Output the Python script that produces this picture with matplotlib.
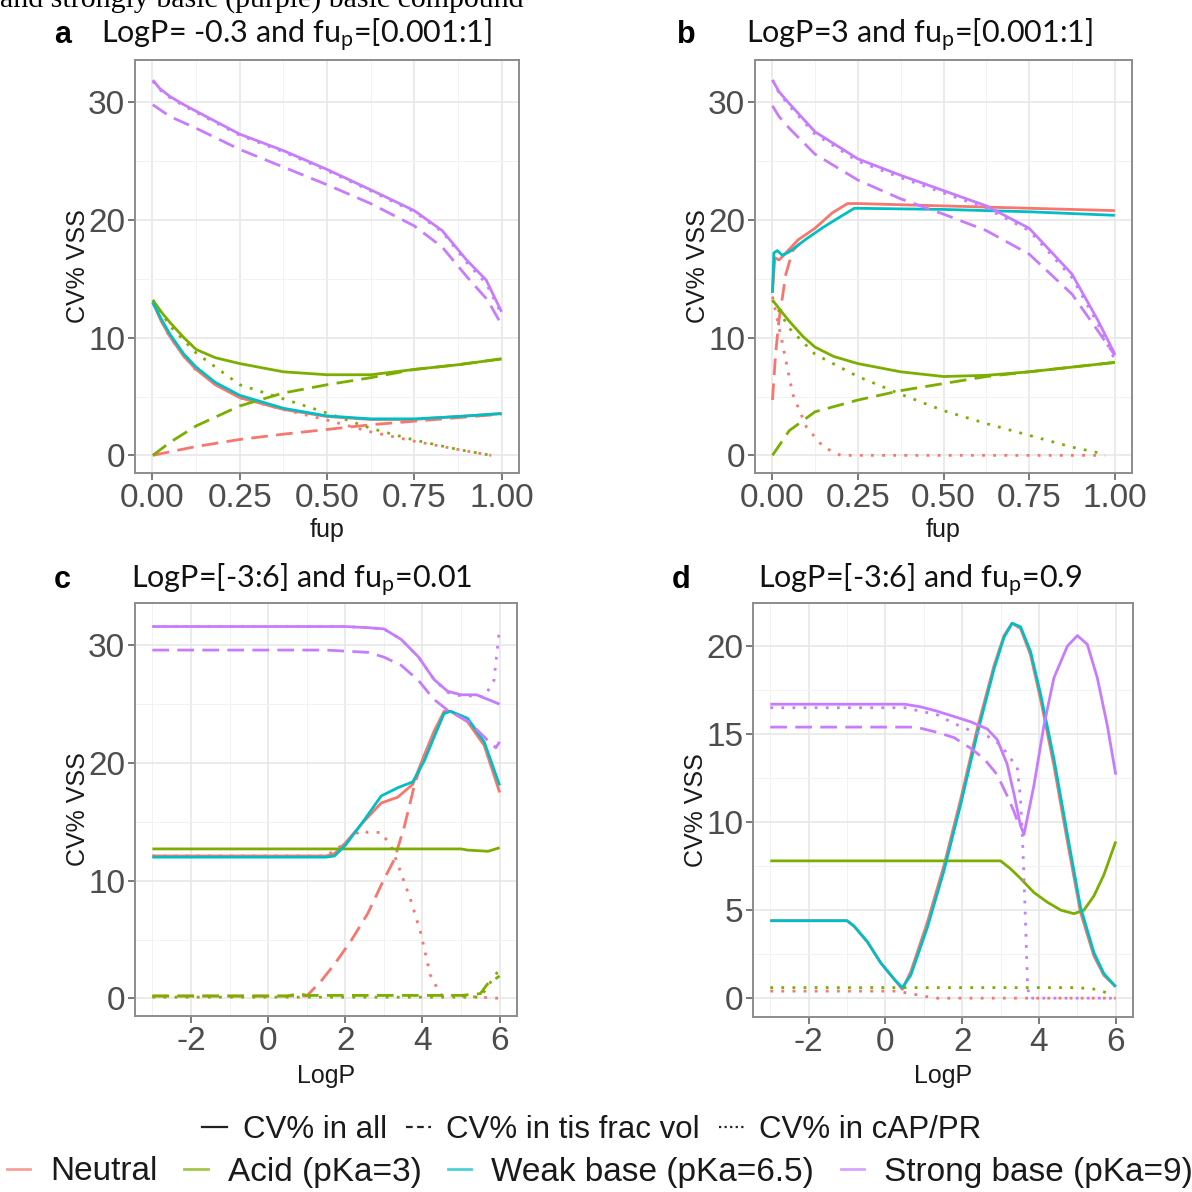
import matplotlib
matplotlib.use("Agg")
import matplotlib.pyplot as plt
from matplotlib.lines import Line2D

plt.rcParams["font.family"] = ["Liberation Sans", "DejaVu Sans"]
plt.rcParams["mathtext.fontset"] = "custom"
plt.rcParams["mathtext.rm"] = "Lato"
plt.rcParams["mathtext.it"] = "Lato:italic"

RED, GREEN, CYAN, PURPLE = "#F8766D", "#7CAE00", "#00BFC4", "#C77CFF"

# ---------------- panel a: LogP = -0.3, fup sweep ----------------
a_purple_all_x = [0.001, 0.02, 0.05, 0.09, 0.128, 0.25, 0.375, 0.5, 0.623, 0.75, 0.83, 0.9, 0.956, 1.0]
a_purple_all_y = [31.9, 31.2, 30.5, 29.8, 29.2, 27.3, 25.9, 24.3, 22.6, 20.8, 19.1, 16.6, 14.9, 12.2]
a_purple_cap_y = [31.8, 31.1, 30.4, 29.7, 29.1, 27.2, 25.8, 24.2, 22.5, 20.7, 19.0, 16.4, 14.6, 12.0]
a_purple_tis_x = [0.001, 0.05, 0.125, 0.25, 0.375, 0.5, 0.625, 0.75, 0.83, 0.9, 0.96, 1.0]
a_purple_tis_y = [29.8, 28.8, 27.8, 26.0, 24.5, 23.0, 21.4, 19.5, 17.7, 15.2, 13.2, 11.1]
a_fine_x = [0.001, 0.025, 0.05, 0.09, 0.125, 0.18, 0.25, 0.375, 0.5, 0.625, 0.75, 0.875, 1.0]
a_green_all_y = [13.2, 12.2, 11.3, 10.0, 9.0, 8.3, 7.8, 7.1, 6.85, 6.85, 7.3, 7.7, 8.2]
a_red_all_y = [13.0, 11.4, 10.1, 8.4, 7.3, 6.0, 4.9, 3.9, 3.3, 3.05, 3.05, 3.3, 3.55]
a_cyan_all_y = [13.0, 11.6, 10.3, 8.6, 7.5, 6.2, 5.1, 4.0, 3.35, 3.1, 3.1, 3.3, 3.55]
a_coarse_x = [0.001, 0.05, 0.125, 0.25, 0.375, 0.5, 0.625, 0.75, 0.875, 1.0]
a_green_tis_y = [0.0, 1.1, 2.5, 4.2, 5.3, 6.0, 6.6, 7.3, 7.7, 8.2]
a_red_tis_y = [0.0, 0.3, 0.75, 1.35, 1.8, 2.2, 2.6, 2.9, 3.2, 3.5]
a_cap_x = [0.001, 0.05, 0.125, 0.25, 0.375, 0.5, 0.625, 0.75, 0.875, 0.97]
a_green_cap_y = [13.2, 11.0, 8.7, 6.0, 4.8, 3.6, 2.3, 1.3, 0.5, 0.0]
a_red_cap_y = [13.0, 10.0, 7.2, 4.9, 3.9, 3.0, 2.0, 1.2, 0.5, 0.0]

# ---------------- panel b: LogP = 3, fup sweep ----------------
b_purple_x = [0.001, 0.02, 0.05, 0.125, 0.25, 0.375, 0.5, 0.625, 0.75, 0.875, 0.95, 1.0]
b_purple_all_y = [31.9, 30.9, 29.9, 27.5, 25.2, 23.8, 22.5, 21.2, 19.3, 15.4, 11.5, 8.6]
b_purple_tis_y = [29.7, 28.8, 27.8, 25.6, 23.4, 21.8, 20.5, 19.1, 17.1, 13.7, 10.6, 8.5]
b_purple_cap_y = [31.9, 30.8, 29.7, 27.3, 25.0, 23.6, 22.3, 21.0, 19.1, 15.1, 11.2, 8.1]
b_red_all_x = [0.001, 0.008, 0.02, 0.04, 0.075, 0.125, 0.175, 0.22, 0.25, 0.5, 0.75, 1.0]
b_red_all_y = [14.0, 16.8, 16.6, 17.2, 18.3, 19.3, 20.6, 21.4, 21.4, 21.2, 21.0, 20.8]
b_cyan_all_x = [0.001, 0.005, 0.015, 0.03, 0.05, 0.1, 0.15, 0.2, 0.24, 0.5, 0.75, 1.0]
b_cyan_all_y = [13.8, 17.2, 17.4, 17.0, 17.3, 18.4, 19.4, 20.3, 21.0, 20.9, 20.7, 20.4]
b_red_tis_x = [0.001, 0.01, 0.02, 0.04, 0.06, 0.08]
b_red_tis_y = [4.7, 8.6, 11.5, 15.4, 17.4, 18.0]
b_red_cap_x = [0.001, 0.03, 0.06, 0.1, 0.15, 0.2, 0.97]
b_red_cap_y = [13.5, 9.5, 5.2, 2.4, 0.7, 0.0, 0.0]
b_green_all_x = [0.001, 0.025, 0.05, 0.09, 0.125, 0.18, 0.25, 0.375, 0.5, 0.625, 0.75, 0.875, 1.0]
b_green_all_y = [13.2, 12.3, 11.4, 10.1, 9.2, 8.4, 7.8, 7.1, 6.7, 6.8, 7.1, 7.5, 7.9]
b_green_tis_x = [0.001, 0.05, 0.125, 0.25, 0.375, 0.5, 0.625, 0.75, 0.875, 1.0]
b_green_tis_y = [0.0, 2.1, 3.7, 4.7, 5.5, 6.1, 6.7, 7.1, 7.5, 7.9]
b_green_cap_x = [0.001, 0.05, 0.125, 0.25, 0.375, 0.5, 0.625, 0.75, 0.875, 0.97]
b_green_cap_y = [13.2, 10.8, 8.6, 6.7, 5.2, 3.8, 2.7, 1.7, 0.7, 0.1]

# ---------------- panel c: LogP sweep, fup = 0.01 ----------------
c_purple_all_x = [-3, 2.0, 2.6, 3.0, 3.45, 3.9, 4.3, 4.65, 5.0, 5.4, 5.7, 6.0]
c_purple_all_y = [31.6, 31.6, 31.5, 31.4, 30.5, 29.0, 27.1, 26.1, 25.8, 25.8, 25.4, 25.0]
c_purple_tis_x = [-3, 1.5, 2.6, 3.0, 3.45, 3.9, 4.3, 4.65, 5.2, 5.7, 5.9, 6.0]
c_purple_tis_y = [29.6, 29.6, 29.4, 29.0, 28.3, 27.0, 25.4, 24.5, 23.5, 21.9, 21.3, 21.8]
c_purple_cap_x = [-3, 2.0, 2.6, 3.0, 3.45, 3.9, 4.3, 4.65, 5.0, 5.4, 5.6, 5.85, 6.0]
c_purple_cap_y = [31.6, 31.6, 31.5, 31.4, 30.5, 29.0, 27.1, 26.0, 25.7, 25.7, 25.6, 27.0, 31.5]
c_mid_x = [-3, 1.5, 1.72, 2.0, 2.5, 2.93, 3.36, 3.75, 4.05, 4.3, 4.56, 4.73, 5.17, 5.6, 6.0]
c_red_all_y = [12.1, 12.1, 12.3, 13.2, 15.1, 16.6, 17.1, 18.2, 20.7, 22.7, 24.4, 24.4, 23.5, 21.5, 17.5]
c_cyan_all_y = [12.0, 12.0, 12.1, 13.0, 15.2, 17.2, 17.9, 18.4, 20.2, 22.2, 24.2, 24.4, 23.8, 21.8, 18.1]
c_red_tis_x = [-3, 1.0, 1.38, 1.72, 2.15, 2.58, 3.0, 3.27, 3.53, 3.79, 4.05]
c_red_tis_y = [0.2, 0.2, 1.5, 2.9, 4.9, 7.2, 10.1, 11.8, 14.6, 18.1, 20.7]
c_red_cap_x = [-3, 1.5, 2.0, 2.4, 2.58, 2.93, 3.19, 3.45, 3.7, 3.96, 4.2, 4.47, 6.0]
c_red_cap_y = [12.1, 12.1, 13.2, 14.3, 14.1, 14.1, 12.9, 10.6, 8.3, 5.5, 2.0, 0.3, 0.0]
c_green_all_x = [-3, 5.0, 5.17, 5.7, 6.0]
c_green_all_y = [12.7, 12.7, 12.6, 12.5, 12.8]
c_green_tis_x = [-3, 0.5, 0.8, 1.0, 5.0, 5.5, 5.68, 6.0]
c_green_tis_y = [0.2, 0.2, 0.4, 0.25, 0.25, 0.4, 1.2, 1.9]
c_green_cap_x = [-3, 5.5, 6.0]
c_green_cap_y = [0.1, 0.1, 2.5]

# ---------------- panel d: LogP sweep, fup = 0.9 ----------------
d_mid_x = [-3, -1.0, -0.82, -0.47, -0.12, 0.22, 0.44, 0.66, 1.09, 1.52, 1.96, 2.39,
           2.83, 3.09, 3.3, 3.52, 3.78, 4.04, 4.39, 4.74, 5.08, 5.43, 5.69, 6.0]
d_red_all_y = [4.4, 4.4, 4.1, 3.2, 2.0, 1.1, 0.5, 1.5, 4.3, 7.5, 11.3, 15.3,
               18.9, 20.6, 21.3, 21.0, 19.5, 17.0, 13.2, 8.9, 4.9, 2.4, 1.3, 0.65]
d_cyan_all_y = [4.4, 4.4, 4.1, 3.2, 2.0, 1.1, 0.6, 1.3, 4.0, 7.2, 11.0, 15.0,
                18.7, 20.5, 21.3, 21.1, 19.7, 17.3, 13.6, 9.3, 5.2, 2.6, 1.4, 0.65]
d_purple_all_x = [-3, 0.5, 0.92, 1.35, 1.79, 2.22, 2.65, 2.91, 3.17, 3.35, 3.52, 3.61,
                  3.87, 4.13, 4.39, 4.74, 5.0, 5.26, 5.52, 5.78, 6.0]
d_purple_all_y = [16.7, 16.7, 16.55, 16.3, 16.0, 15.7, 15.3, 14.7, 13.3, 11.6, 9.8, 9.3,
                  12.1, 15.5, 18.2, 20.0, 20.6, 20.1, 18.2, 15.5, 12.7]
d_purple_tis_x = [-3, 0.8, 1.35, 1.79, 2.22, 2.57, 2.91, 3.17, 3.35, 3.45]
d_purple_tis_y = [15.4, 15.4, 15.1, 14.8, 14.2, 13.6, 12.7, 11.5, 10.6, 10.0]
d_purple_cap_x = [-3, 0.5, 1.35, 1.79, 2.22, 2.65, 3.0, 3.26, 3.43, 3.52, 3.57, 3.63, 3.7, 3.74, 6.0]
d_purple_cap_y = [16.5, 16.5, 16.1, 15.6, 15.2, 14.9, 14.4, 13.6, 13.2, 11.3, 9.1, 5.6, 0.9, 0.0, 0.0]
d_green_all_x = [-3, 3.0, 3.26, 3.52, 3.87, 4.22, 4.57, 4.91, 5.17, 5.43, 5.69, 6.0]
d_green_all_y = [7.8, 7.8, 7.35, 6.8, 6.0, 5.45, 5.0, 4.8, 5.0, 5.8, 7.0, 8.9]
d_green_cap_x = [-3, 5.0, 5.5, 5.9]
d_green_cap_y = [0.6, 0.6, 0.5, 0.2]
d_red_cap_x = [-3, 0.3, 1.3, 6.0]
d_red_cap_y = [0.4, 0.4, 0.0, 0.0]

SOLID, DASHED, DOTTED = "-", (0, (6, 3)), (0, (1, 3))

panels = {
    "a": [
        (a_cap_x, a_red_cap_y, RED, DOTTED), (a_coarse_x, a_red_tis_y, RED, DASHED),
        (a_fine_x, a_red_all_y, RED, SOLID),
        (a_cap_x, a_green_cap_y, GREEN, DOTTED), (a_coarse_x, a_green_tis_y, GREEN, DASHED),
        (a_fine_x, a_green_all_y, GREEN, SOLID),
        (a_fine_x, a_cyan_all_y, CYAN, SOLID),
        (a_purple_all_x, a_purple_cap_y, PURPLE, DOTTED),
        (a_purple_tis_x, a_purple_tis_y, PURPLE, DASHED),
        (a_purple_all_x, a_purple_all_y, PURPLE, SOLID),
    ],
    "b": [
        (b_red_cap_x, b_red_cap_y, RED, DOTTED), (b_red_tis_x, b_red_tis_y, RED, DASHED),
        (b_red_all_x, b_red_all_y, RED, SOLID),
        (b_green_cap_x, b_green_cap_y, GREEN, DOTTED), (b_green_tis_x, b_green_tis_y, GREEN, DASHED),
        (b_green_all_x, b_green_all_y, GREEN, SOLID),
        (b_cyan_all_x, b_cyan_all_y, CYAN, SOLID),
        (b_purple_x, b_purple_cap_y, PURPLE, DOTTED),
        (b_purple_x, b_purple_tis_y, PURPLE, DASHED),
        (b_purple_x, b_purple_all_y, PURPLE, SOLID),
    ],
    "c": [
        (c_red_cap_x, c_red_cap_y, RED, DOTTED), (c_red_tis_x, c_red_tis_y, RED, DASHED),
        (c_mid_x, c_red_all_y, RED, SOLID),
        (c_green_cap_x, c_green_cap_y, GREEN, DOTTED), (c_green_tis_x, c_green_tis_y, GREEN, DASHED),
        (c_green_all_x, c_green_all_y, GREEN, SOLID),
        (c_mid_x, c_cyan_all_y, CYAN, SOLID),
        (c_purple_cap_x, c_purple_cap_y, PURPLE, DOTTED),
        (c_purple_tis_x, c_purple_tis_y, PURPLE, DASHED),
        (c_purple_all_x, c_purple_all_y, PURPLE, SOLID),
    ],
    "d": [
        (d_red_cap_x, d_red_cap_y, RED, DOTTED), (d_mid_x, d_red_all_y, RED, SOLID),
        (d_green_cap_x, d_green_cap_y, GREEN, DOTTED), (d_green_all_x, d_green_all_y, GREEN, SOLID),
        (d_mid_x, d_cyan_all_y, CYAN, SOLID),
        (d_purple_cap_x, d_purple_cap_y, PURPLE, DOTTED),
        (d_purple_tis_x, d_purple_tis_y, PURPLE, DASHED),
        (d_purple_all_x, d_purple_all_y, PURPLE, SOLID),
    ],
}

titles = {
    "a": r"LogP= -0.3 and fu$_\mathrm{p}$=[0.001:1]",
    "b": r"LogP=3 and fu$_\mathrm{p}$=[0.001:1]",
    "c": r"LogP=[-3:6] and fu$_\mathrm{p}$=0.01",
    "d": r"LogP=[-3:6] and fu$_\mathrm{p}$=0.9",
}

W = H = 1192.0
fig = plt.figure(figsize=(11.92, 11.92), dpi=100)


def px_axes(left, top, right, bottom):
    return fig.add_axes([left / W, 1 - bottom / H, (right - left) / W, (bottom - top) / H])


boxes = {
    "a": (135, 60, 519, 473),
    "b": (755, 60, 1132, 473),
    "c": (135, 603, 517, 1016),
    "d": (753, 603, 1133, 1017),
}

fup_ticks = [0, 0.25, 0.5, 0.75, 1.0]
fup_labels = ["0.00", "0.25", "0.50", "0.75", "1.00"]
logp_ticks = [-2, 0, 2, 4, 6]
logp_labels = ["-2", "0", "2", "4", "6"]

for key, series in panels.items():
    box = boxes[key]
    ax = px_axes(*box)
    for x, y, color, ls in series:
        ax.plot(x, y, color=color, lw=2.0, linestyle=ls, solid_capstyle="butt")

    if key in ("a", "b"):
        ax.set_xlim(-0.05, 1.05)
        ax.set_xticks(fup_ticks)
        ax.set_xticklabels(fup_labels)
        ax.set_xticks([0.125, 0.375, 0.625, 0.875], minor=True)
        xlabel = "fup"
    else:
        ax.set_xlim(-3.45, 6.45)
        ax.set_xticks(logp_ticks)
        ax.set_xticklabels(logp_labels)
        ax.set_xticks([-3, -1, 1, 3, 5], minor=True)
        xlabel = "LogP"
    if key == "d":
        ax.set_ylim(-1.07, 22.45)
        ax.set_yticks([0, 5, 10, 15, 20])
        ax.set_yticks([2.5, 7.5, 12.5, 17.5], minor=True)
    else:
        ax.set_ylim(-1.5, 33.6)
        ax.set_yticks([0, 10, 20, 30])
        ax.set_yticks([5, 15, 25], minor=True)

    ax.grid(which="major", color="#E8E8E8", lw=1.2)
    ax.grid(which="minor", color="#F2F2F2", lw=0.7)
    ax.set_axisbelow(True)
    ax.tick_params(which="major", length=5, width=1.1, color="#555555",
                   labelsize=24, labelcolor="#4D4D4D", pad=2)
    ax.tick_params(which="minor", length=0)
    for sp in ax.spines.values():
        sp.set_color("#8C8C8C")
        sp.set_linewidth(1.4)

    left, top, right, bottom = box
    cx = (left + right) / 2
    fig.text(cx / W, 1 - (530 if key in ("a", "b") else 1076) / H, xlabel,
             ha="center", va="center", fontsize=18, color="#1A1A1A")
    fig.text((left - 57) / W, 1 - (top + bottom) / 2 / H, "CV% VSS", rotation=90,
             ha="center", va="center", fontsize=18, color="#1A1A1A")

# panel letters and titles
letter_pos = {"a": (54, 43), "b": (677, 43), "c": (54, 588), "d": (672, 588)}
title_pos = {"a": 101, "b": 746, "c": 131, "d": 758}
for key in "abcd":
    lx, ly = letter_pos[key]
    fig.text(lx / W, 1 - ly / H, key, fontsize=22, fontweight="bold", va="baseline")
    fig.text(title_pos[key] / W, 1 - ly / H, titles[key], fontsize=22,
             family=["Lato", "DejaVu Sans"], va="baseline", color="#111111")

# cut-off caption line at the very top
fig.text(0, 1 - 7 / H, "and strongly basic (purple) basic compound", fontsize=21.5,
         family=["Liberation Serif", "DejaVu Serif"], va="baseline")

# legends
style_handles = [
    Line2D([0], [0], color="#222222", lw=1.6, linestyle="-"),
    Line2D([0], [0], color="#222222", lw=1.6, linestyle=(0, (3, 2))),
    Line2D([0], [0], color="#222222", lw=1.6, linestyle=(0, (1, 1.5))),
]
style_labels = ["CV% in all", "CV% in tis frac vol", "CV% in cAP/PR"]
leg1 = fig.legend(style_handles, style_labels, loc="center", ncol=3, frameon=False,
                  bbox_to_anchor=(592 / W, 1 - 1130 / H), fontsize=22.5,
                  handlelength=0.8, handletextpad=0.5, columnspacing=0.6)
for t in leg1.get_texts():
    t.set_color("#1A1A1A")

color_handles = [Line2D([0], [0], color=c, lw=2.0, alpha=0.7) for c in (RED, GREEN, CYAN, PURPLE)]
color_labels = ["Neutral", "Acid (pKa=3)", "Weak base (pKa=6.5)", "Strong base (pKa=9)"]
leg2 = fig.legend(color_handles, color_labels, loc="center", ncol=4, frameon=False,
                  bbox_to_anchor=(600 / W, 1 - 1172 / H), fontsize=24,
                  handlelength=0.7, handletextpad=0.6, columnspacing=0.8)
for t in leg2.get_texts():
    t.set_color("#1A1A1A")

fig.savefig("out.png", dpi=100)
